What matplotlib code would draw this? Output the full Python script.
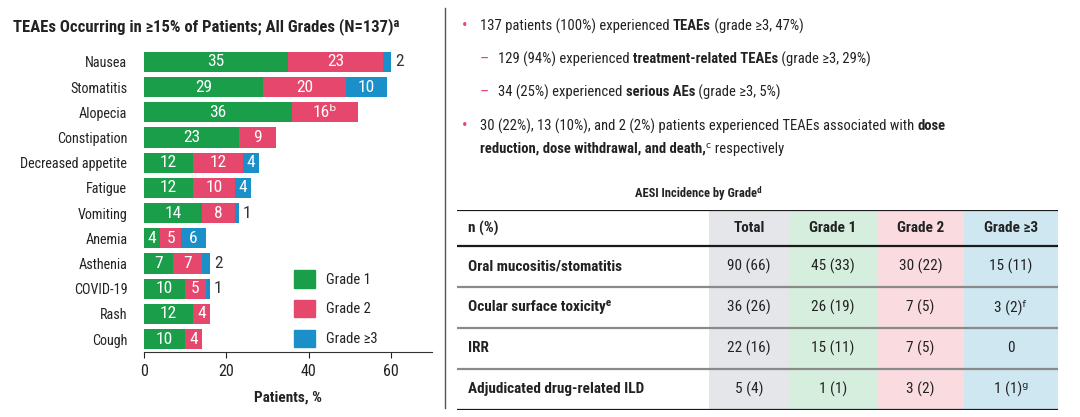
import numpy as np
import matplotlib
matplotlib.use("Agg")
import matplotlib.pyplot as plt
from matplotlib import font_manager as fm
from matplotlib.lines import Line2D
from matplotlib.patches import Patch

W, H = 1080, 417

# bar chart data (patients, %)
events = ['Nausea', 'Stomatitis', 'Alopecia', 'Constipation', 'Decreased appetite', 'Fatigue',
          'Vomiting', 'Anemia', 'Asthenia', 'COVID-19', 'Rash', 'Cough']
grade1 = [35, 29, 36, 23, 12, 12, 14, 4, 7, 10, 12, 10]
grade2 = [23, 20, 16, 9, 12, 10, 8, 5, 7, 5, 4, 4]
grade3 = [2, 10, 0, 0, 4, 4, 1, 6, 2, 1, 0, 0]
grade2_notes = {'Alopecia': 'ᵇ'}

# AESI table
table_cols = ['n (%)', 'Total', 'Grade 1', 'Grade 2', 'Grade ≥3']
table_rows = ['Oral mucositis/stomatitis', 'Ocular surface toxicityᵉ', 'IRR', 'Adjudicated drug-related ILD']
tab_total = ['90 (66)', '36 (26)', '22 (16)', '5 (4)']
tab_g1 = ['45 (33)', '26 (19)', '15 (11)', '1 (1)']
tab_g2 = ['30 (22)', '7 (5)', '7 (5)', '3 (2)']
tab_g3 = ['15 (11)', '3 (2)ᶠ', '0', '1 (1)ᵍ']

# bullet text, (text, bold) pieces per line
bullets = [
    ('•', 0, [('137 patients (100%) experienced ', False), ('TEAEs', True), (' (grade ≥3, 47%)', False)]),
    ('–', 1, [('129 (94%) experienced ', False), ('treatment-related TEAEs', True), (' (grade ≥3, 29%)', False)]),
    ('–', 1, [('34 (25%) experienced ', False), ('serious AEs', True), (' (grade ≥3, 5%)', False)]),
    ('•', 0, [('30 (22%), 13 (10%), and 2 (2%) patients experienced TEAEs associated with ', False), ('dose', True)]),
    ('', 0, [('reduction, dose withdrawal, and death,', True), ('ᶜ respectively', False)]),
]


def pick(names):
    for n in names:
        try:
            fm.findfont(fm.FontProperties(family=n), fallback_to_default=False)
            return n
        except Exception:
            pass
    return 'DejaVu Sans'


BASE = pick(['Roboto Condensed', 'Archivo Narrow', 'PT Sans Narrow', 'Liberation Sans'])
FONT = [BASE, 'DejaVu Sans']
plt.rcParams['font.family'] = FONT

GREEN, PINK, BLUE = '#1b9e49', '#e6486d', '#1b8fc8'
DARK = '#222222'

fig = plt.figure(figsize=(W / 100, H / 100), dpi=100)


def fx(px):
    return px / W


def fy(py):
    return 1 - py / H


# ---- left: stacked bars
ax = fig.add_axes([fx(144), fy(352), fx(432 - 144), (352 - 44) / H])
y = np.arange(len(events))
g1 = np.array(grade1)
g2 = np.array(grade2)
g3 = np.array(grade3)
ax.barh(y, g1, height=0.8, color=GREEN, label='Grade 1')
ax.barh(y, g2, left=g1, height=0.8, color=PINK, label='Grade 2')
ax.barh(y, g3, left=g1 + g2, height=0.8, color=BLUE, label='Grade ≥3')
ax.set_xlim(0, 70)
ax.set_ylim(11.51, -0.71)
ax.set_yticks(y)
ax.set_yticklabels(events, fontsize=10.2, color=DARK)
ax.set_xticks([0, 20, 40, 60])
ax.tick_params(axis='y', length=0, pad=12)
ax.tick_params(axis='x', length=4, labelsize=11.5, colors=DARK, pad=5)
for s in ['top', 'right', 'left']:
    ax.spines[s].set_visible(False)
ax.spines['bottom'].set_color('#333333')
ax.set_xlabel('Patients, %', fontsize=11, fontweight='bold', color=DARK, labelpad=8)

for i, ev in enumerate(events):
    starts = [0, g1[i], g1[i] + g2[i]]
    for v, st in zip([g1[i], g2[i], g3[i]], starts):
        if v == 0:
            continue
        if v >= 3:
            lab = str(v)
            if st == g1[i] and ev in grade2_notes:
                lab += grade2_notes[ev]
            ax.text(st + v / 2, i, lab, ha='center', va='center', color='white', fontsize=12.5)
        else:
            ax.annotate(str(v), (g1[i] + g2[i] + g3[i], i), xytext=(3, 0), textcoords='offset points',
                        ha='left', va='center', color='#333333', fontsize=12.5)

handles = [Patch(color=GREEN), Patch(color=PINK), Patch(color=BLUE)]
fig.legend(handles, ['Grade 1', 'Grade 2', 'Grade ≥3'], loc='upper left',
           bbox_to_anchor=(fx(287), fy(263)), frameon=False, fontsize=10.5,
           handlelength=1.45, handleheight=1.45, handletextpad=0.7, labelspacing=0.85,
           borderpad=0, labelcolor=DARK)

fig.text(fx(206), fy(27), 'TEAEs Occurring in ≥15% of Patients; All Grades (N=137)ᵃ',
         ha='center', va='center', fontsize=12, fontweight='bold', color=DARK)

# separator
fig.add_artist(Line2D([fx(445), fx(445)], [fy(8), fy(408)], color='#555555', lw=1))

# ---- right: bullet text
renderer = fig.canvas.get_renderer()


def text_width(s, weight, size):
    t = fig.text(0, 0, s, fontsize=size, fontweight=weight)
    w = t.get_window_extent(renderer=renderer).width
    t.remove()
    return w


def draw_parts(x, yy, parts, size):
    for s, bold in parts:
        wt = 'bold' if bold else 'normal'
        # measure with sentinel chars so spaces count
        w = text_width('|' + s + '|', wt, size) - text_width('||', wt, size)
        fig.text(fx(x), fy(yy), s, fontsize=size, fontweight=wt, ha='left', va='center', color=DARK)
        x += w


BODY = 10.5
line_y = [26, 59, 92, 126, 149]
for (mark, level, parts), yy in zip(bullets, line_y):
    if mark:
        mx = 465 if level == 0 else 484
        fig.text(fx(mx), fy(yy), mark, fontsize=BODY + 1, color=PINK, ha='center', va='center')
    draw_parts(480 if level == 0 else 498, yy, parts, BODY)

fig.text(fx(698), fy(193), 'AESI Incidence by Gradeᵈ', ha='center', va='center',
         fontsize=9, fontweight='bold', color=DARK)

# ---- table
colw = [252, 80, 88, 87, 94]
header_h, row_h = 36, 41
col_bg = ['white', '#e4e6ea', '#d6eedd', '#f9dbe0', '#cee7f1']
edges = np.concatenate([[0], np.cumsum(colw)])
tot_h = header_h + row_h * len(table_rows)

tx = fig.add_axes([fx(457), fy(210 + tot_h), fx(edges[-1]), tot_h / H])
tx.set_xlim(0, edges[-1])
tx.set_ylim(tot_h, 0)
tx.axis('off')
for c in range(1, len(colw)):
    tx.axvspan(edges[c], edges[c + 1], color=col_bg[c], lw=0)

row_edges = [0, header_h] + [header_h + row_h * (k + 1) for k in range(len(table_rows))]
for k, yy in enumerate(row_edges):
    black = k in (0, 1, len(row_edges) - 1)
    tx.axhline(yy, color='#1a1a1a' if black else '#8a8a8a', lw=1.6)

TS = 11
tx.text(11, header_h / 2, table_cols[0], ha='left', va='center', fontsize=TS, fontweight='bold', color=DARK)
for c in range(1, len(colw)):
    tx.text((edges[c] + edges[c + 1]) / 2, header_h / 2, table_cols[c], ha='center', va='center',
            fontsize=TS, fontweight='bold', color=DARK)
cols = [tab_total, tab_g1, tab_g2, tab_g3]
for r, name in enumerate(table_rows):
    yc = header_h + row_h * r + row_h / 2
    tx.text(11, yc, name, ha='left', va='center', fontsize=TS, fontweight='bold', color=DARK)
    for c, vals in enumerate(cols, start=1):
        tx.text((edges[c] + edges[c + 1]) / 2, yc, vals[r], ha='center', va='center', fontsize=TS, color=DARK)

fig.savefig('out.png', dpi=100)
